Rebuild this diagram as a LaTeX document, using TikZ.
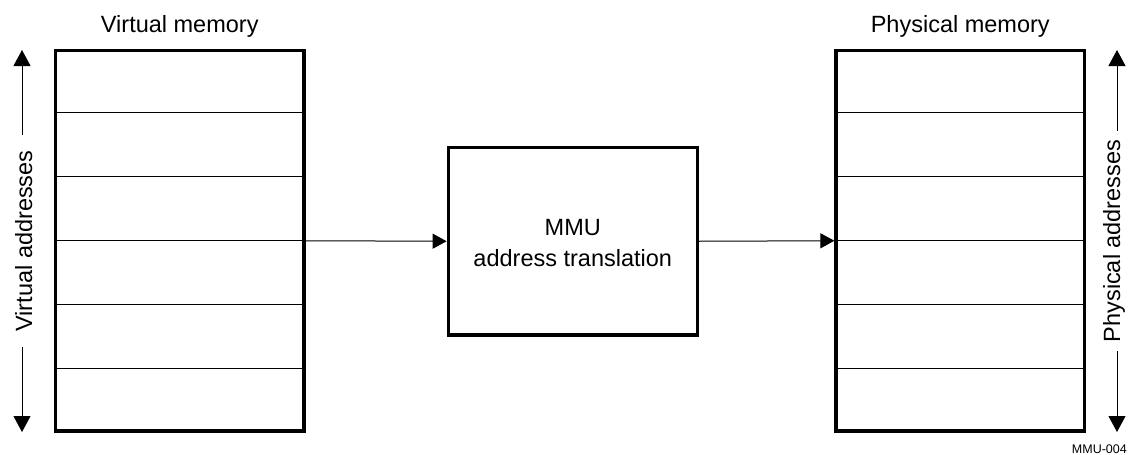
\documentclass[tikz,border=0pt]{standalone}
\usepackage{fontspec}
\setmainfont{Liberation Sans}
\usetikzlibrary{arrows.meta,calc}
\begin{document}
\begin{tikzpicture}[x=1pt,y=-1pt,
  mem/.style={draw, line width=3.2pt, minimum width=248.5pt, minimum height=380.5pt},
  mmubox/.style={draw, line width=3.2pt, minimum width=249pt, minimum height=187.5pt},
  sep/.style={line width=1.2pt},
  conn/.style={line width=1pt, -{Triangle[length=14pt,width=15pt]}},
  vert/.style={line width=1pt, -{Triangle[length=16pt,width=17pt]}},
  lbl/.style={font=\fontsize{23.5}{28}\selectfont, inner sep=0pt},
  small/.style={font=\fontsize{12.5}{15}\selectfont, inner sep=0pt},
]
\useasboundingbox (0,0) rectangle (1130,455);

% memory boxes
\node[mem] (vm) at (179.75,240.75) {};
\node[mem] (pm) at (960.25,240.75) {};
\foreach \b in {vm,pm}{
  \foreach \i in {1,...,5}{
    \draw[sep] ($(\b.north west)!\i/6!(\b.south west)$) -- ($(\b.north east)!\i/6!(\b.south east)$);
  }
}

% MMU box
\node[mmubox] (mmu) at (572.75,241.25) {};
\node[lbl, anchor=base] (mmu1) at (572.75,235) {MMU};
\node[lbl, anchor=base] (mmu2) at (572.75,266) {address translation};

% connectors
\draw[conn] (vm.east) -- (mmu.west);
\draw[conn] (mmu.east) -- (pm.west);

% titles
\coordinate (tt) at (0,32);
\node[lbl, anchor=base] (vmt) at (vm.north |- tt) {Virtual memory};
\node[lbl, anchor=base] (pmt) at (pm.north |- tt) {Physical memory};

% vertical address labels with arrows
\coordinate (vtop) at (22,50);
\coordinate (vbot) at (22,432);
\node[lbl, rotate=90, anchor=base, inner xsep=15pt] (va) at (32,241) {Virtual addresses};
\draw[vert] (va.east -| vtop) -- (vtop);
\draw[vert] (va.west -| vbot) -- (vbot);

\coordinate (ptop) at (1117,50);
\coordinate (pbot) at (1117,432);
\node[lbl, rotate=90, anchor=base, inner xsep=9pt] (pa) at (1120,241) {Physical addresses};
\draw[vert] (pa.east -| ptop) -- (ptop);
\draw[vert] (pa.west -| pbot) -- (pbot);

% figure id
\node[small, anchor=base east] (fid) at (1127,453) {MMU-004};
\end{tikzpicture}
\end{document}
